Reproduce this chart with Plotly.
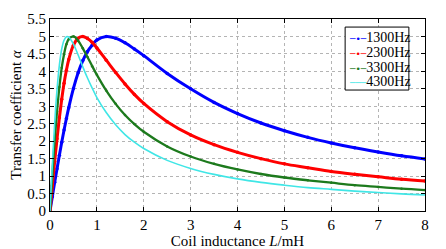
import plotly.graph_objects as go

L_mH = [0, 0.05, 0.1, 0.15, 0.2, 0.25, 0.3, 0.35, 0.4, 0.5, 0.6, 0.7, 0.8, 0.9, 1.0,
        1.2, 1.4, 1.6, 1.8, 2.0, 2.5, 3.0, 3.5, 4.0, 4.5, 5.0, 5.5, 6.0, 6.5, 7.0, 7.5, 8.0]

a_1300 = [0, 0.41, 0.82, 1.21, 1.60, 1.97, 2.32, 2.65, 2.96, 3.51, 3.96, 4.31, 4.57, 4.75, 4.90,
          5.00, 4.95, 4.82, 4.64, 4.45, 3.94, 3.50, 3.11, 2.79, 2.52, 2.30, 2.11, 1.95, 1.81, 1.69, 1.58, 1.49]
a_2300 = [0, 0.72, 1.42, 2.07, 2.67, 3.20, 3.66, 4.03, 4.34, 4.75, 4.95, 5.00, 4.94, 4.83, 4.67,
          4.32, 3.97, 3.64, 3.34, 3.08, 2.56, 2.18, 1.90, 1.68, 1.50, 1.35, 1.24, 1.13, 1.05, 0.98, 0.91, 0.86]
a_3300 = [0, 1.03, 2.04, 2.85, 3.55, 4.10, 4.49, 4.78, 4.92, 5.00, 4.88, 4.66, 4.41, 4.15, 3.90,
          3.45, 3.07, 2.75, 2.49, 2.27, 1.85, 1.56, 1.35, 1.19, 1.06, 0.96, 0.88, 0.81, 0.74, 0.69, 0.64, 0.60]
a_4300 = [0, 1.33, 2.52, 3.48, 4.18, 4.64, 4.89, 4.99, 4.98, 4.78, 4.47, 4.13, 3.81, 3.52, 3.25,
          2.82, 2.47, 2.19, 1.97, 1.79, 1.45, 1.22, 1.05, 0.92, 0.82, 0.74, 0.67, 0.62, 0.57, 0.53, 0.49, 0.46]

names = ["1300Hz", "2300Hz", "3300Hz", "4300Hz"]
series = [a_1300, a_2300, a_3300, a_4300]
colors = ["#0000ff", "#ff0000", "#1d7a1d", "#40e6e6"]
widths = [3.0, 3.0, 2.3, 1.6]
modes = ["lines+markers", "lines+markers", "lines+markers", "lines"]
marker_sizes = [3.5, 3.5, 2.5, 0]

fig = go.Figure()
for n, s, c, w, m, ms in zip(names, series, colors, widths, modes, marker_sizes):
    fig.add_trace(go.Scatter(x=L_mH, y=s, name=n, mode=m, line=dict(color=c, width=w),
                             marker=dict(size=ms, color=c), line_shape="spline",
                             showlegend=False))

font = "Liberation Serif, Times New Roman, serif"

# compact MATLAB-style legend box
leg_x0, leg_x1, leg_y0, leg_y1 = 0.787, 0.957, 0.630, 0.958
fig.add_shape(type="rect", xref="paper", yref="paper", x0=leg_x0, x1=leg_x1, y0=leg_y0, y1=leg_y1,
              line=dict(color="black", width=1), fillcolor="white", layer="above")
entry_y = [0.906, 0.828, 0.750, 0.677]
for n, c, ey, m in zip(names, colors, entry_y, modes):
    sample = "─•─" if "markers" in m else "───"
    fig.add_annotation(xref="paper", yref="paper", x=0.791, y=ey, xanchor="left", yanchor="middle",
                       showarrow=False,
                       text=f"<span style='color:{c};font-family:DejaVu Sans;font-size:9px'>{sample}</span>{n}",
                       font=dict(family=font, size=14, color="black"))

# the page body adds an 8px offset, so the figure is sized to fill the rest of the window
fig.update_layout(
    width=438, height=241,
    margin=dict(l=42, r=21, t=11, b=38),
    paper_bgcolor="white", plot_bgcolor="white",
    font=dict(family=font, size=15, color="black"),
    showlegend=False,
)
axis_common = dict(showline=True, linecolor="black", linewidth=1, mirror="allticks",
                   ticks="inside", ticklen=4, tickcolor="black",
                   showgrid=True, gridcolor="#b4b4b4", griddash="dot", gridwidth=1,
                   zeroline=False, tickfont=dict(size=15), automargin=False)
fig.update_xaxes(range=[0, 8], dtick=1,
                 title=dict(text="Coil inductance <i>L</i>/mH", standoff=3, font=dict(size=15)),
                 **axis_common)
fig.update_yaxes(range=[0, 5.5], dtick=0.5,
                 title=dict(text="Transfer coefficient <i>α</i>", standoff=5, font=dict(size=15)),
                 **axis_common)

fig.write_html("out.html")
